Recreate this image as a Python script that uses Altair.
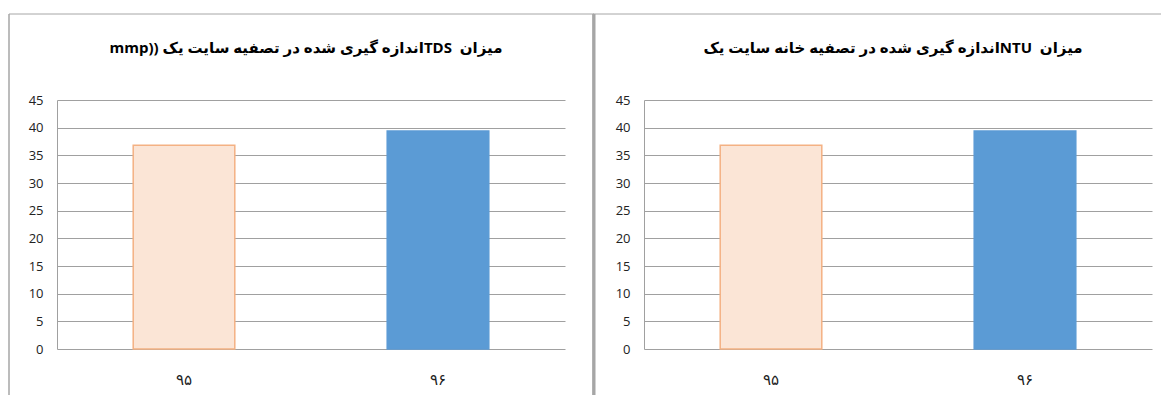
import altair as alt
import pandas as pd

# ---- data ----
years = ["۹۵", "۹۶"]
values_tds = [36.8, 39.4]
values_ntu = [36.8, 39.4]
titles = [
    "میزان \u00a0TDSاندازه گیری شده در تصفیه سایت یک ((mmp",
    "میزان \u00a0NTUاندازه گیری شده در تصفیه خانه سایت یک",
]
y_ticks = [0, 5, 10, 15, 20, 25, 30, 35, 40, 45]
fill_colors = ["#FBE5D6", "#5B9BD5"]
stroke_colors = ["#F4B183", "#5B9BD5"]

W = 508
H = 249
GRID = "#a0a0a0"
FRAME = "#a6a6a6"
LABEL_FONT = "Open Sans, DejaVu Sans"
TITLE_FONT = "Open Sans, DejaVu Sans"

RLE = "\u202B"
PDF = "\u202C"


def panel(vals, title, frame_left, frame_right, draw_sep):
    df = pd.DataFrame({"year": years, "value": vals})
    base = alt.Chart(df)
    bars = base.mark_bar(strokeWidth=1.5).encode(
        x=alt.X(
            "year:N",
            sort=years,
            scale=alt.Scale(paddingInner=0.6, paddingOuter=0.3),
            axis=alt.Axis(
                title=None, labelAngle=0, ticks=False, domain=False,
                labelPadding=23, labelFontSize=15, labelFont=LABEL_FONT,
                labelColor="#222222",
            ),
        ),
        y=alt.Y(
            "value:Q",
            scale=alt.Scale(domain=[0, 45], nice=False),
            axis=alt.Axis(
                title=None, values=y_ticks, ticks=False, domain=True,
                domainColor=GRID, gridColor=GRID, gridWidth=1,
                labelPadding=14, labelFontSize=13, labelFont=LABEL_FONT,
                labelColor="#222222",
            ),
        ),
        color=alt.Color("year:N", scale=alt.Scale(domain=years, range=fill_colors), legend=None),
        stroke=alt.Stroke("year:N", scale=alt.Scale(domain=years, range=stroke_colors), legend=None),
    )

    one = alt.Chart(alt.Data(values=[{"t": RLE + title + PDF}]))
    ttl = one.mark_text(
        fontSize=15, fontWeight="bold", font=TITLE_FONT, color="#000000",
        align="center", baseline="middle",
    ).encode(text="t:N", x=alt.value(W / 2 - 5), y=alt.value(-52))

    layers = [bars, ttl]
    top = one.mark_rule(color=FRAME, strokeWidth=1).encode(
        x=alt.value(frame_left), x2=alt.value(frame_right), y=alt.value(-86)
    )
    layers.append(top)
    left = one.mark_rule(color=FRAME, strokeWidth=1.5).encode(
        x=alt.value(frame_left), y=alt.value(-86), y2=alt.value(295)
    )
    layers.append(left)
    if draw_sep is not None:
        sep = one.mark_rule(color=FRAME, strokeWidth=3).encode(
            x=alt.value(draw_sep), y=alt.value(-86), y2=alt.value(295)
        )
        layers.append(sep)
    return alt.layer(*layers).properties(width=W, height=H)


p1 = panel(values_tds, titles[0], -48, 537, 537)
p2 = panel(values_ntu, titles[1], -51, 517, None)
chart = (
    alt.hconcat(p1, p2, spacing=79, bounds="flush")
    .properties(padding={"top": 4, "left": 0, "right": 0, "bottom": 0}, background="#ffffff")
    .configure_view(stroke=None)
)

chart.save("out.html", embed_options={"renderer": "svg", "actions": False})
